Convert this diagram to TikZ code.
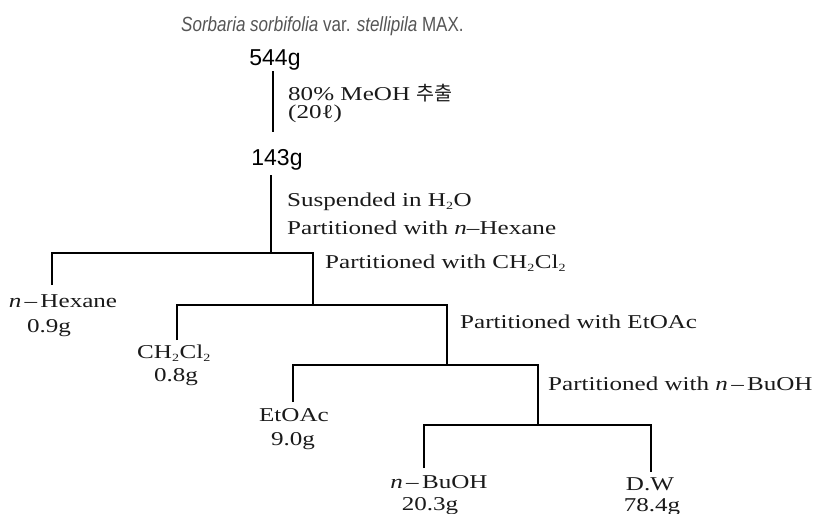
\documentclass[tikz,border=0pt]{standalone}
\usepackage{fontspec}
\setmainfont[FakeStretch=1.28]{Liberation Serif}
\newfontfamily\sansf{Liberation Sans}
\newfontfamily\titlef[FakeStretch=0.83]{Liberation Sans}
\newfontfamily\krf{Noto Sans CJK KR}
\definecolor{txt}{HTML}{1A1A1A}
\definecolor{ttl}{HTML}{555555}
\newcommand{\subtwo}{\textsubscript{\scalebox{0.8}{2}}}
\begin{document}
\begin{tikzpicture}[x=1pt,y=-1pt,
  lbl/.style={font=\fontsize{19.6}{22}\selectfont, text=txt, inner sep=0, anchor=base west},
  leaf/.style={font=\fontsize{19.6}{22}\selectfont, text=txt, inner sep=0, anchor=base},
  wt/.style={font=\sansf\fontsize{23}{26}\selectfont, text=black, inner sep=0, anchor=base},
  ttlstyle/.style={font=\titlef\fontsize{20.5}{22}\selectfont, text=ttl, inner sep=0, anchor=base west},
  conn/.style={line width=2pt, black}]
\useasboundingbox (0,0) rectangle (814,514);
% title and weights
\node[ttlstyle] (title) at (181,31) {\textit{Sorbaria sorbifolia} var. \textit{stellipila} MAX.};
\node[wt] (w544) at (275,65) {544g};
\node[wt] (w143) at (277,165) {143g};
% process labels
\node[lbl] (meoh) at (288,100) {80\% MeOH {\krf 추출}};
\node[lbl] (vol) at (288,118) {(20ℓ)};
\node[lbl] (susp) at (287,206) {Suspended in H\subtwo O};
\node[lbl] (phex) at (287,234) {Partitioned with \textit{n}–Hexane};
\node[lbl] (pch) at (325,268) {Partitioned with CH\subtwo Cl\subtwo};
\node[lbl] (petoac) at (460,328) {Partitioned with EtOAc};
\node[lbl] (pbuoh) at (548,390) {Partitioned with \textit{n}\,–\,BuOH};
% fractions
\node[leaf] (hex) at (63,307) {\textit{n}\,–\,Hexane};
\node[leaf] (hexw) at (49,332) {0.9g};
\node[leaf] (ch) at (174,358) {CH\subtwo Cl\subtwo};
\node[leaf] (chw) at (176,381) {0.8g};
\node[leaf] (et) at (294,421) {EtOAc};
\node[leaf] (etw) at (293,445) {9.0g};
\node[leaf] (bu) at (439,488) {\textit{n}\,–\,BuOH};
\node[leaf] (buw) at (430,510) {20.3g};
\node[leaf] (dw) at (650,490) {D.W};
\node[leaf] (dww) at (652,511) {78.4g};
% tree coordinates
\coordinate (a1) at (273,71);  \coordinate (a2) at (273,132);
\coordinate (b1) at (271,175); \coordinate (b2) at (271,253);
\coordinate (hexT) at (52,285);
\coordinate (j1r) at (313,253); \coordinate (j2) at (313,305);
\coordinate (chT) at (177,340);
\coordinate (j2r) at (447,305); \coordinate (j3) at (447,365);
\coordinate (etT) at (293,402);
\coordinate (j3r) at (538,365); \coordinate (j4) at (538,425);
\coordinate (j4l) at (424,425); \coordinate (j4r) at (651,425);
\coordinate (buT) at (424,468);
\coordinate (dwT) at (651,472);
% connectors
\draw[conn] (a1) -- (a2);
\draw[conn] (b1) -- (b2);
\draw[conn] (hexT) |- (j1r) -- (j2);
\draw[conn] (chT) |- (j2r) -- (j3);
\draw[conn] (etT) |- (j3r) -- (j4);
\draw[conn] (buT) -- (j4l) -- (j4r) -- (dwT);
\end{tikzpicture}
\end{document}
